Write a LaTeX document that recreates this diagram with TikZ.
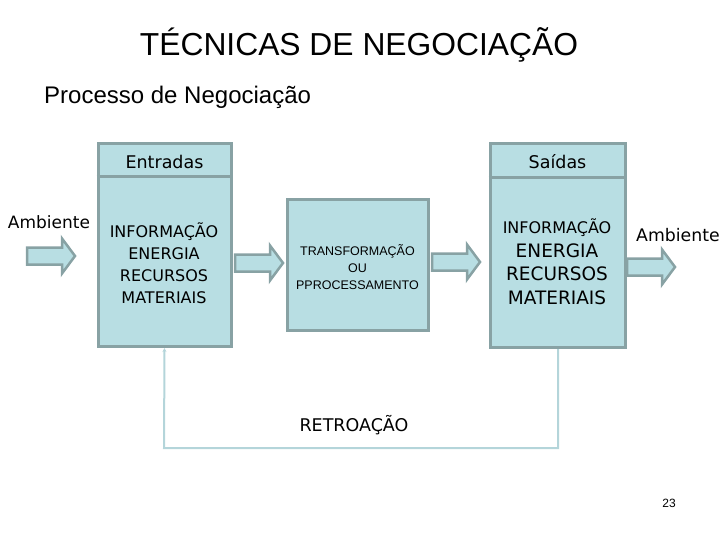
\documentclass[tikz,border=0pt]{standalone}
\usepackage{fontspec}
\setmainfont{Liberation Sans}
\newfontfamily\tah{DejaVu Sans}
\usetikzlibrary{arrows.meta}
\definecolor{boxfill}{RGB}{184,222,227}
\definecolor{boxline}{RGB}{136,162,164}
\definecolor{fbline}{RGB}{180,213,218}
\tikzset{
  panel/.style={draw=boxline, fill=boxfill, line width=3pt, inner sep=0pt},
  blockarrow/.style={draw=boxline, fill=boxfill, line width=2.5pt, line join=miter},
  txt/.style={inner sep=0pt, align=center, text=black},
}
\begin{document}
\begin{tikzpicture}[x=1pt,y=-1pt]
\useasboundingbox (0,0) rectangle (720,540);
% title
\node[txt, font=\fontsize{31.8}{36}\selectfont] (title) at (359,45) {TÉCNICAS DE NEGOCIAÇÃO};
\node[txt, font=\fontsize{24}{28}\selectfont, anchor=west] (sub) at (44,97) {Processo de Negociação};
% boxes
\node[panel, minimum width=133pt, minimum height=203pt] (lbox) at (164.5,245) {};
\node[panel, minimum width=141pt, minimum height=130pt] (mbox) at (358,265) {};
\node[panel, minimum width=135pt, minimum height=204pt] (rbox) at (557.5,245.5) {};
\draw[boxline, line width=3pt] ([yshift=-35pt]lbox.north west) -- ([yshift=-35pt]lbox.north east);
\draw[boxline, line width=3pt] ([yshift=-36pt]rbox.north west) -- ([yshift=-36pt]rbox.north east);
% headers
\node[txt, font=\tah\fontsize{17.5}{20}\selectfont] (entr) at (164.5,162) {Entradas};
\node[txt, font=\tah\fontsize{17.5}{20}\selectfont] (said) at (557.5,162) {Saídas};
% left box text
\node[txt, font=\tah\fontsize{16}{22}\selectfont] (ltext) at (164,263) {INFORMAÇÃO\\ENERGIA\\RECURSOS\\MATERIAIS};
% middle text
\node[txt, font=\fontsize{12.5}{17}\selectfont] (mtext) at (357.5,267) {TRANSFORMAÇÃO\\OU\\PPROCESSAMENTO};
% right box text
\node[txt, font=\tah\fontsize{16}{20}\selectfont] (rinfo) at (557,228) {INFORMAÇÃO};
\node[txt, font=\tah\fontsize{18.5}{23.5}\selectfont] (rtext) at (557,274) {ENERGIA\\RECURSOS\\MATERIAIS};
% ambiente labels
\node[txt, font=\tah\fontsize{17}{20}\selectfont] (amb1) at (49,222) {Ambiente};
\node[txt, font=\tah\fontsize{17.3}{20}\selectfont, anchor=west] (amb2) at (636,235) {Ambiente};
% block arrows
\foreach \n/\x/\y in {a1/27/256, a2/235/263, a3/432/262, a4/627/267}{
  \draw[blockarrow] (\x,\y) ++(0,-8.5) -- ++(35,0) -- ++(0,-9) -- ++(13,17.5) -- ++(-13,17.5) -- ++(0,-9) -- ++(-35,0) -- cycle;
}
% feedback loop
\coordinate (fb1) at (164,448);
\draw[fbline, line width=2pt, -{Stealth[length=4pt,width=4pt]}] ([xshift=0.5pt]rbox.south) |- (fb1) -- (lbox.south);
\node[txt, font=\tah\fontsize{17.5}{20}\selectfont] (retro) at (354,425) {RETROAÇÃO};
\node[txt, font=\fontsize{12}{14}\selectfont] (pg) at (669,503) {23};
\end{tikzpicture}
\end{document}
